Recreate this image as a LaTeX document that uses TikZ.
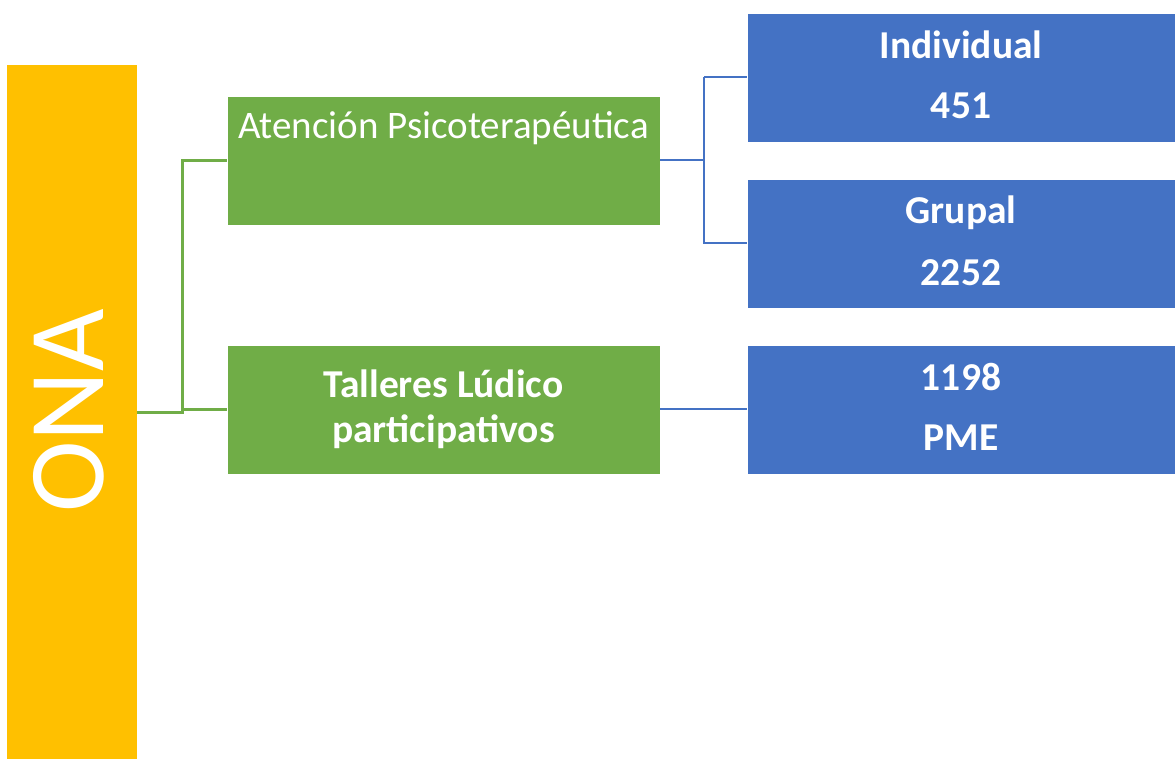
\documentclass[tikz,border=0pt]{standalone}
\usepackage{fontspec}
\setmainfont{Carlito}
\definecolor{onaorange}{HTML}{FFC000}
\definecolor{boxgreen}{HTML}{70AD47}
\definecolor{boxblue}{HTML}{4472C4}
\tikzset{
  box/.style={rectangle, inner sep=0pt, outer sep=0pt, draw=white, line width=0.6pt},
  gbox/.style={box, fill=boxgreen, minimum width=433pt, minimum height=129pt},
  bbox/.style={box, fill=boxblue, minimum width=430pt, minimum height=129pt},
  txt/.style={text=white, anchor=base, inner sep=0pt},
  btxt/.style={txt, font=\fontsize{39.5}{39.5}\selectfont\bfseries},
  glink/.style={draw=boxgreen, line width=3pt},
  blink/.style={draw=boxblue, line width=2.6pt},
}
\begin{document}
\begin{tikzpicture}[x=1pt,y=-1pt]
\useasboundingbox (0,0) rectangle (1175,758);
% ONA bar
\node[rectangle, fill=onaorange, inner sep=0pt, outer sep=0pt, minimum width=130pt, minimum height=700pt, anchor=north west] (ona) at (7,65) {};
\node[txt, rotate=90, font=\fontsize{108}{108}\selectfont] (onat) at (103,411) {ONA};
% green boxes
\node[gbox, anchor=north west] (aten) at (227,96) {};
\node[txt, font=\fontsize{39}{39}\selectfont] (atent) at (443.5,138) {Atención Psicoterapéutica};
\node[gbox, anchor=north west] (tall) at (227,345) {};
\node[btxt] (tallt1) at (443.5,397) {Talleres Lúdico};
\node[btxt] (tallt2) at (443.5,442) {participativos};
% blue boxes
\node[bbox, anchor=north west] (indiv) at (747,13) {};
\node[btxt] (indivt1) at (961,58) {Individual};
\node[btxt] (indivt2) at (961,118) {451};
\node[bbox, anchor=north west] (grup) at (747,179) {};
\node[btxt] (grupt1) at (961,223) {Grupal};
\node[btxt] (grupt2) at (961,285) {2252};
\node[bbox, anchor=north west] (pme) at (747,345) {};
\node[btxt] (pmet1) at (961,390) {1198};
\node[btxt] (pmet2) at (961,450) {PME};
% junction coordinates
\coordinate (gj) at (182,412);
\coordinate (bj) at (704,160);
% green connectors
\draw[glink] (ona.east |- gj) -- (gj) |- (aten.west |- 0,160);
\draw[glink] (gj |- 0,409) -- (tall.west |- 0,409);
% blue connectors
\draw[blink] (aten.east |- bj) -- (bj);
\draw[blink] (bj |- 0,77) -- (indiv.west |- 0,77);
\draw[blink] (bj |- 0,77) -- (bj |- 0,243) -- (grup.west |- 0,243);
\draw[blink] (tall.east |- 0,409) -- (pme.west |- 0,409);
\end{tikzpicture}
\end{document}
